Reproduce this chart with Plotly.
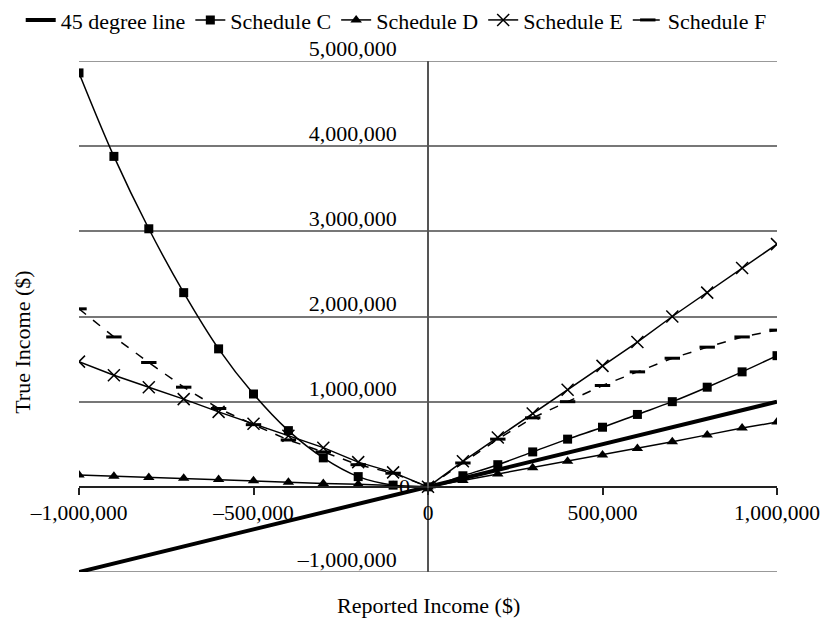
import plotly.graph_objects as go

# ---------------- data ----------------
reported = [-1000000, -900000, -800000, -700000, -600000, -500000, -400000,
            -300000, -200000, -100000, 0, 100000, 200000, 300000, 400000,
            500000, 600000, 700000, 800000, 900000, 1000000]

sched_c = [4860000, 3880000, 3030000, 2280000, 1620000, 1090000, 660000,
           340000, 120000, 20000, 0, 130000, 260000, 410000, 560000,
           700000, 850000, 1000000, 1170000, 1350000, 1540000]

sched_d = [140000, 125000, 110000, 100000, 85000, 70000, 55000,
           40000, 30000, 15000, 0, 75000, 150000, 225000, 300000,
           375000, 450000, 530000, 610000, 690000, 760000]

sched_e = [1470000, 1310000, 1170000, 1030000, 880000, 740000, 600000,
           460000, 290000, 170000, 0, 300000, 580000, 860000, 1140000,
           1420000, 1700000, 2000000, 2280000, 2570000, 2850000]

sched_f = [2090000, 1760000, 1460000, 1170000, 920000, 730000, 550000,
           410000, 260000, 160000, 0, 280000, 560000, 810000, 1000000,
           1190000, 1350000, 1510000, 1640000, 1760000, 1840000]

line45_x = [-1000000, 1000000]
line45_y = [-1000000, 1000000]

series_names = ["45 degree line", "Schedule C", "Schedule D",
                "Schedule E", "Schedule F"]

x_tickvals = [-1000000, -500000, 0, 500000, 1000000]
x_ticktext = ["\u20131,000,000", "\u2013500,000", "0", "500,000", "1,000,000"]
y_tickvals = [-1000000, 1000000, 2000000, 3000000, 4000000, 5000000]
y_ticktext = ["\u20131,000,000", "1,000,000", "2,000,000", "3,000,000",
              "4,000,000", "5,000,000"]
edge_grid = [-1000000, 5000000]

FONT = "Liberation Serif"

fig = go.Figure()
fig.add_trace(go.Scatter(x=line45_x, y=line45_y, mode="lines",
                         name=series_names[0],
                         line=dict(color="black", width=4)))
fig.add_trace(go.Scatter(x=reported, y=sched_c, mode="lines+markers",
                         name=series_names[1],
                         line=dict(color="black", width=1.5, shape="spline"),
                         marker=dict(symbol="square", size=9, color="black")))
fig.add_trace(go.Scatter(x=reported, y=sched_d, mode="lines+markers",
                         name=series_names[2],
                         line=dict(color="black", width=1.5),
                         marker=dict(symbol="triangle-up", size=10, color="black")))
fig.add_trace(go.Scatter(x=reported, y=sched_e, mode="lines+markers",
                         name=series_names[3],
                         line=dict(color="black", width=1.5),
                         marker=dict(symbol="x-thin", size=12, color="black",
                                     line=dict(color="black", width=1.5))))
fig.add_trace(go.Scatter(x=reported, y=sched_f, mode="lines+markers",
                         name=series_names[4],
                         line=dict(color="black", width=1.5, dash="dash"),
                         marker=dict(symbol="line-ew", size=11, color="black",
                                     line=dict(color="black", width=3))))

shapes = [dict(type="line", xref="paper", yref="y", x0=0, x1=1, y0=v, y1=v,
               line=dict(color="#777", width=1.5), layer="below")
          for v in edge_grid]

fig.update_layout(
    width=821, height=621,
    margin=dict(l=79, r=44, t=61, b=49, autoexpand=False),
    paper_bgcolor="white", plot_bgcolor="white",
    font=dict(family=FONT, size=22, color="black"),
    showlegend=True,
    legend=dict(orientation="h", x=-0.0835, xanchor="left",
                y=1.08, yanchor="middle",
                font=dict(family=FONT, size=22, color="black"),
                bgcolor="rgba(0,0,0,0)", itemwidth=30, tracegroupgap=0),
    xaxis=dict(range=[-1000000, 1000000], domain=[0, 1], anchor="free",
               position=1/6, showline=True, linecolor="#222", linewidth=1.5,
               ticks="outside", ticklen=7, tickcolor="#222", tickwidth=1.5,
               tickvals=x_tickvals, ticktext=x_ticktext,
               showgrid=False, zeroline=False,
               tickfont=dict(family=FONT, size=21.5, color="black")),
    yaxis=dict(range=[-1000000, 5000000], domain=[0, 1], anchor="free",
               position=0.5, showline=True, linecolor="#555", linewidth=1.5,
               ticks="", tickvals=y_tickvals, ticktext=y_ticktext,
               showgrid=True, gridcolor="#777", gridwidth=1.5,
               zeroline=False, ticklabelshift=-13, ticklabelstandoff=26,
               tickfont=dict(family=FONT, size=22, color="black")),
    shapes=shapes,
    annotations=[
        dict(x=0, y=0, xref="x", yref="y", text="0", showarrow=False,
             xanchor="right", yanchor="middle", xshift=-16,
             font=dict(family=FONT, size=22, color="black")),
        dict(x=0.5, y=-0.065, xref="paper", yref="paper",
             text="Reported Income ($)", showarrow=False,
             xanchor="center", yanchor="middle",
             font=dict(family=FONT, size=22, color="black")),
        dict(x=-0.082, y=0.45, xref="paper", yref="paper",
             text="True Income ($)", showarrow=False, textangle=-90,
             xanchor="center", yanchor="middle",
             font=dict(family=FONT, size=22, color="black")),
    ],
)

fig.write_html("out.html",
               config={"displayModeBar": False},
               post_script="document.body.style.margin='0';"
                           "document.body.style.overflow='hidden';")
